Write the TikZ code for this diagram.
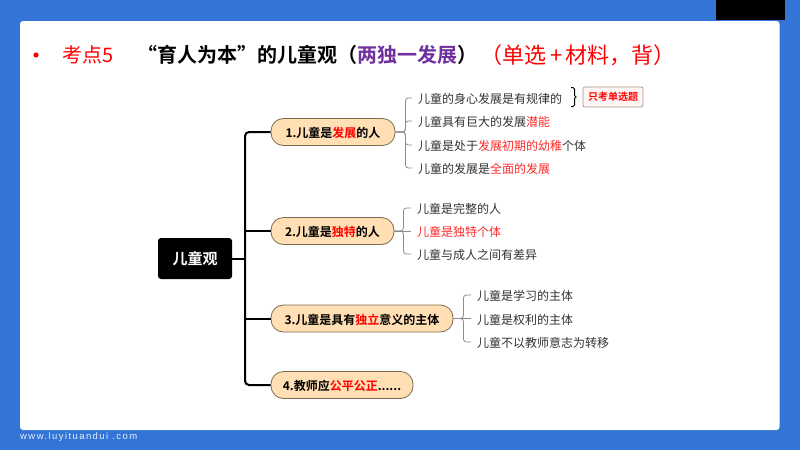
\documentclass[tikz,border=0pt]{standalone}
\usepackage{fontspec}
\setmainfont{Noto Sans CJK SC}[BoldFont={Noto Sans CJK SC Bold}]
\newfontfamily\footfam[LetterSpace=15]{Liberation Sans}
\definecolor{bluebg}{HTML}{3375D6}
\definecolor{hot}{HTML}{FF0000}
\definecolor{soft}{HTML}{FF2A2A}
\definecolor{ink}{HTML}{333333}
\definecolor{purp}{HTML}{7030A0}
\definecolor{peach}{HTML}{FFDFB3}
\definecolor{edge}{HTML}{7A6A50}
\definecolor{twigc}{HTML}{8C8C8C}
\newcommand{\hotword}[1]{\textcolor{hot}{#1}}
\newcommand{\softword}[1]{\textcolor{soft}{#1}}
\tikzset{
  x=1pt,y=-1pt,
  titletext/.style={anchor=west,inner sep=0pt,font=\fontsize{20}{24}\selectfont},
  rootbox/.style={fill=black,rounded corners=3,text=white,minimum width=74,minimum height=41,inner sep=0pt,text height=13,text depth=2,font=\bfseries\fontsize{15}{18}\selectfont},
  pill/.style={draw=edge,line width=.8pt,fill=peach,rounded corners=12.5,minimum height=27,inner sep=0pt,text height=12.5,text depth=1.5,font=\bfseries\fontsize{12}{14}\selectfont,text=black},
  leaf/.style={anchor=west,inner sep=0pt,inner xsep=6pt,text height=12.5,text depth=1.5,font=\fontsize{12}{14}\selectfont,text=ink},
  trunk/.style={draw=black,line width=2pt,rounded corners=4},
  twig/.style={draw=twigc,line width=.8pt,rounded corners=3},
  badge/.style={draw=edge!70,line width=.7pt,fill=hot!4,rounded corners=2,minimum width=60,minimum height=20,inner sep=0pt,text=hot,font=\bfseries\fontsize{10}{12}\selectfont}
}
\begin{document}
\begin{tikzpicture}
\useasboundingbox (0,0) rectangle (800,450);
\fill[bluebg] (0,0) rectangle (800,450);
\fill[white,rounded corners=3] (20,21) rectangle (779.5,430);
\fill[black] (716,0) rectangle (785,20);
\fill[hot] (36,55) circle (2.6);
\node[titletext,text=hot] (kd) at (62,55) {考点5};
\node[titletext,text=black,font=\bfseries\fontsize{20}{24}\selectfont] (tt) at (137.5,55) {“育人为本”的儿童观（\textcolor{purp}{两独一发展}）};
\node[titletext,text=hot,font=\fontsize{22}{26}\selectfont] (tr) at (480.5,55) {（单选\kern3.5pt+\kern3.5pt 材料，背）};

\node[rootbox] (root) at (195,258.5) {儿童观};
\node[pill,minimum width=124] (n1) at (333,132) {1.儿童是\hotword{发展}的人};
\node[pill,minimum width=123] (n2) at (332.5,231) {2.儿童是\hotword{独特}的人};
\node[pill,minimum width=182] (n3) at (362,318.5) {3.儿童是具有\hotword{独立}意义的主体};
\node[pill,minimum width=142] (n4) at (342,385) {4.教师应\hotword{公平公正}......};

\coordinate (j) at (245,258.5);
\draw[trunk] (root.east) -- (j);
\draw[trunk] (n1.west) -| (j);
\draw[trunk] (n4.west) -| (j);
\draw[trunk] (n2.west) -- (n2.west -| j);
\draw[trunk] (n3.west) -- (n3.west -| j);

\node[leaf] (a1) at (412,98) {儿童的身心发展是有规律的};
\node[leaf] (a2) at (412,121) {儿童具有巨大的发展\softword{潜能}};
\node[leaf] (a3) at (412,145) {儿童是处于\softword{发展初期的幼稚}个体};
\node[leaf] (a4) at (412,168) {儿童的发展是\softword{全面的发展}};
\draw[twig] (n1.east) -- ++(10,0) |- (a1.west);
\draw[twig] (n1.east) -- ++(10,0) |- (a2.west);
\draw[twig] (n1.east) -- ++(10,0) |- (a3.west);
\draw[twig] (n1.east) -- ++(10,0) |- (a4.west);

\node[leaf] (b1) at (411,208) {儿童是完整的人};
\node[leaf] (b2) at (411,231) {\softword{儿童是独特个体}};
\node[leaf] (b3) at (411,254) {儿童与成人之间有差异};
\draw[twig] (n2.east) -- ++(9,0) |- (b1.west);
\draw[twig] (n2.east) -- (b2.west);
\draw[twig] (n2.east) -- ++(9,0) |- (b3.west);

\node[leaf] (c1) at (471,295) {儿童是学习的主体};
\node[leaf] (c2) at (471,318.5) {儿童是权利的主体};
\node[leaf] (c3) at (471,342) {儿童不以教师意志为转移};
\draw[twig] (n3.east) -- ++(10,0) |- (c1.west);
\draw[twig] (n3.east) -- (c2.west);
\draw[twig] (n3.east) -- ++(10,0) |- (c3.west);

\node[badge] (bd) at (613,97) {只考单选题};
\coordinate (br) at (578,97);
\draw[black,line width=1pt,rounded corners=1.5] (571,87.5) -- (574.5,87.5) -- (574.5,97) -- (br) -- (574.5,97) -- (574.5,106.5) -- (571,106.5);

\node[anchor=west,inner sep=0pt,text=white!88!bluebg,font=\footfam\fontsize{9.5}{11}\selectfont] (ft) at (20,437.5) {www.luyituandui .com};
\end{tikzpicture}
\end{document}
